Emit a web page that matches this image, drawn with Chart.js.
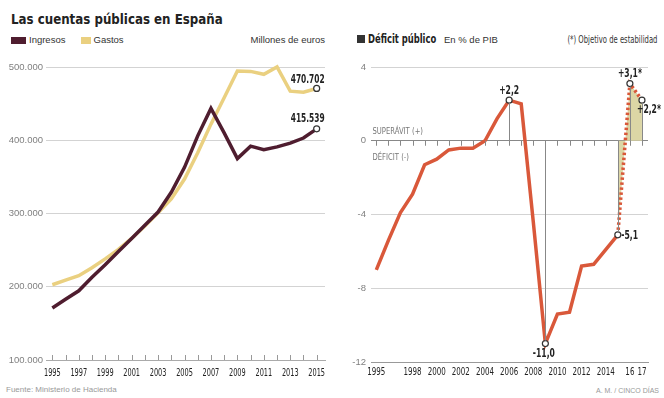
<!DOCTYPE html>
<html>
<head>
<meta charset="utf-8">
<script src="https://cdn.jsdelivr.net/npm/chart.js@4.4.1/dist/chart.umd.min.js"></script>
<style>
  body { margin: 0; width: 664px; height: 398px; background: #fff; position: relative; overflow: hidden;
         font-family: "Liberation Sans", Arial, sans-serif; color: #333; }
  canvas { position: absolute; top: 0; }
  #left { left: 0; }
  #right { left: 332px; }
  .t { position: absolute; white-space: nowrap; line-height: 1; color: #333; }
  .c { font-family: "DejaVu Sans Condensed", "DejaVu Sans", sans-serif; transform-origin: 0 0; }
  .r { transform-origin: 100% 0; }
  .sw { position: absolute; }
</style>
</head>
<body>
<div class="t c" style="left:11px;top:11.5px;font-size:14px;font-weight:bold;color:#222;transform:scaleX(0.94)">Las cuentas públicas en España</div>
<div class="sw" style="left:11px;top:36.5px;width:15px;height:7px;background:#4f1d2f"></div>
<div class="t" style="left:29px;top:35.3px;font-size:9.5px">Ingresos</div>
<div class="sw" style="left:81px;top:36.5px;width:10px;height:7px;background:#ead080"></div>
<div class="t" style="left:93.5px;top:35.3px;font-size:9.5px">Gastos</div>
<div class="t" style="right:339px;top:35.3px;font-size:9.5px">Millones de euros</div>

<div class="sw" style="left:357px;top:34.5px;width:8px;height:8px;background:#333"></div>
<div class="t c" style="left:368px;top:33.7px;font-size:11.4px;font-weight:bold;color:#222;transform:scaleX(0.82)">Déficit público</div>
<div class="t" style="left:444px;top:35.3px;font-size:9.5px">En % de PIB</div>
<div class="t c r" style="right:7px;top:34.8px;font-size:10px;color:#333;transform:scaleX(0.76)">(*) Objetivo de estabilidad</div>

<div class="t" style="left:6px;top:386.2px;font-size:8px;color:#999">Fuente: Ministerio de Hacienda</div>
<div class="t" style="right:5px;top:386.8px;font-size:7px;color:#999">A. M. / CINCO DÍAS</div>

<canvas id="left" width="332" height="398"></canvas>
<canvas id="right" width="332" height="398"></canvas>

<script>
// Ingresos y gastos públicos (millones de euros)
const years = [1995, 1996, 1997, 1998, 1999, 2000, 2001, 2002, 2003, 2004, 2005,
               2006, 2007, 2008, 2009, 2010, 2011, 2012, 2013, 2014, 2015];
const ingresos = [171000, 183000, 194500, 213000, 230000, 248000, 266000, 284000, 302000, 329000, 363000,
                  406000, 443500, 410000, 375000, 392000, 387000, 391000, 396000, 403000, 415539];
const gastos = [202700, 209000, 215000, 226000, 238000, 251000, 266000, 283000, 301000, 320000, 347000,
                383000, 422000, 458000, 494500, 494000, 490000, 500000, 467000, 465500, 470702];
const leftTicks = [100000, 200000, 300000, 400000, 500000];
const leftYearLabels = [1995, 1997, 1999, 2001, 2003, 2005, 2007, 2009, 2011, 2013, 2015];

// Déficit público (% del PIB)
const defYears = [1995, 1996, 1997, 1998, 1999, 2000, 2001, 2002, 2003, 2004, 2005,
                  2006, 2007, 2008, 2009, 2010, 2011, 2012, 2013, 2014, 2015];
const deficit = [-7.0, -5.4, -3.9, -2.9, -1.3, -1.0, -0.5, -0.4, -0.4, 0.0, 1.2,
                 2.2, 2.0, -4.4, -11.0, -9.4, -9.3, -6.8, -6.7, -5.9, -5.1];
const objYears = [2015, 2016, 2017];
const objetivo = [-5.1, 3.1, 2.2];
const rightTicks = [4, 0, -4, -8, -12];
const rightYearLabels = [1995, 1998, 2000, 2002, 2004, 2006, 2008, 2010, 2012, 2014, 2016, 2017];

const NORMAL = '"Liberation Sans", Arial, sans-serif';
const COND = '"DejaVu Sans Condensed", "DejaVu Sans", sans-serif';
Chart.defaults.font.family = NORMAL;
Chart.defaults.animation = false;

const MAROON = '#4f1d2f', YELLOW = '#ead080', RED = '#d9583a', FILL = '#dcd6a5';

const fmt = v => String(Math.round(v)).replace(/\B(?=(\d{3})+(?!\d))/g, '.');
const fmtPct = v => (v > 0 ? '+' : '') + v.toFixed(1).replace('.', ',');
const pts = (xs, ys) => xs.map((x, i) => ({ x: x, y: ys[i] }));

// condensed text: squeeze horizontally around the anchor
function condText(ctx, text, x, y, sx, align) {
  ctx.save();
  ctx.translate(x, y);
  ctx.scale(sx, 1);
  ctx.textAlign = align;
  ctx.fillText(text, 0, 0);
  ctx.restore();
}

const marker = {
  pointBackgroundColor: '#fff',
  pointBorderColor: '#333',
  pointBorderWidth: 1.2,
  pointHoverRadius: 0
};

// ---------- left chart ----------
const leftPlugin = {
  id: 'leftExtras',
  afterDatasetsDraw(chart) {
    const ctx = chart.ctx, x = chart.scales.x, y = chart.scales.y;
    const base = y.getPixelForValue(100000);
    ctx.save();
    ctx.strokeStyle = '#999';
    ctx.lineWidth = 1;
    years.forEach(yr => {
      const px = Math.round(x.getPixelForValue(yr)) + 0.5;
      ctx.beginPath();
      ctx.moveTo(px, base);
      ctx.lineTo(px, base - 5);
      ctx.stroke();
    });
    // year labels
    ctx.fillStyle = '#222';
    ctx.font = '10px ' + COND;
    leftYearLabels.forEach(yr => condText(ctx, String(yr), x.getPixelForValue(yr), base + 15.5, 0.73, 'center'));
    // end values
    ctx.font = 'bold 11.5px ' + COND;
    const last = years.length - 1;
    const lx = x.getPixelForValue(years[last]) + 8;
    condText(ctx, fmt(gastos[last]), lx, y.getPixelForValue(gastos[last]) - 5.5, 0.72, 'right');
    condText(ctx, fmt(ingresos[last]), lx, y.getPixelForValue(ingresos[last]) - 7, 0.72, 'right');
    ctx.restore();
  }
};

new Chart(document.getElementById('left'), {
  type: 'line',
  data: {
    datasets: [
      Object.assign({
        label: 'Ingresos',
        data: pts(years, ingresos),
        borderColor: MAROON,
        borderWidth: 3.5,
        pointRadius: c => c.dataIndex === years.length - 1 ? 3 : 0,
        clip: false
      }, marker),
      Object.assign({
        label: 'Gastos',
        data: pts(years, gastos),
        borderColor: YELLOW,
        borderWidth: 3.5,
        pointRadius: c => c.dataIndex === years.length - 1 ? 3 : 0,
        clip: false
      }, marker)
    ]
  },
  options: {
    responsive: false,
    devicePixelRatio: 1,
    layout: { padding: { top: 67, bottom: 18, left: 0, right: 7 } },
    plugins: { legend: { display: false }, tooltip: { enabled: false } },
    elements: { line: { tension: 0 } },
    scales: {
      x: {
        type: 'linear',
        min: 1994.52,
        max: 2015.63,
        afterBuildTicks: s => { s.ticks = leftYearLabels.map(v => ({ value: v })); },
        afterFit: s => { s.height = 20; },
        ticks: { display: false },
        grid: { display: false, drawTicks: false },
        border: { color: '#aaa' }
      },
      y: {
        min: 100000,
        max: 500000,
        afterBuildTicks: s => { s.ticks = leftTicks.map(v => ({ value: v })); },
        afterFit: s => { s.width = 46; },
        ticks: { padding: 3, color: '#808080', font: { size: 9.5 }, callback: v => fmt(v) },
        grid: { color: '#d3d3d3', drawTicks: false },
        border: { display: false }
      }
    }
  },
  plugins: [leftPlugin]
});

// ---------- right chart ----------
const dropYears = [2006, 2009, 2015, 2016, 2017];

const rightPlugin = {
  id: 'rightExtras',
  afterDatasetsDraw(chart) {
    const ctx = chart.ctx, x = chart.scales.x, y = chart.scales.y;
    const y0 = y.getPixelForValue(0);
    const yBottom = y.getPixelForValue(-12);
    const valueOf = yr => {
      const i = defYears.indexOf(yr);
      return i >= 0 ? deficit[i] : objetivo[objYears.indexOf(yr)];
    };
    ctx.save();
    ctx.lineWidth = 1;
    ctx.strokeStyle = '#888';
    // ticks below the zero line
    for (let yr = 1995; yr <= 2017; yr++) {
      const px = Math.round(x.getPixelForValue(yr)) + 0.5;
      ctx.beginPath();
      ctx.moveTo(px, y0);
      ctx.lineTo(px, y0 + 5);
      ctx.stroke();
    }
    // drop lines from the marked points to zero
    dropYears.forEach(yr => {
      const v = valueOf(yr);
      const px = Math.round(x.getPixelForValue(yr)) + 0.5;
      const py = y.getPixelForValue(v);
      ctx.beginPath();
      ctx.moveTo(px, v > 0 ? py + 3 : py - 3);
      ctx.lineTo(px, y0);
      ctx.stroke();
    });
    // year labels
    ctx.fillStyle = '#222';
    ctx.font = '10px ' + COND;
    rightYearLabels.forEach(yr => {
      const txt = yr >= 2016 ? String(yr).slice(2) : String(yr);
      condText(ctx, txt, x.getPixelForValue(yr), yBottom + 13, 0.79, 'center');
    });
    // zone labels
    ctx.fillStyle = '#777';
    ctx.font = '9.5px ' + COND;
    condText(ctx, 'SUPERÁVIT (+)', chart.chartArea.left + 1.5, y0 - 7, 0.8, 'left');
    condText(ctx, 'DÉFICIT (-)', chart.chartArea.left + 1.5, y0 + 19, 0.8, 'left');
    // value labels
    ctx.fillStyle = '#222';
    ctx.font = 'bold 11.5px ' + COND;
    const label = (yr, star, dx, dy, align) => {
      const v = valueOf(yr);
      condText(ctx, fmtPct(v) + (star ? '*' : ''), x.getPixelForValue(yr) + dx, y.getPixelForValue(v) + dy, 0.74, align);
    };
    label(2006, false, 0, -6.5, 'center');
    label(2009, false, -1.5, 13.5, 'center');
    label(2015, false, 3.5, 4, 'left');
    label(2016, true, 0, -6.5, 'center');
    label(2017, true, -5, 13, 'left');
    ctx.restore();
  }
};

new Chart(document.getElementById('right'), {
  type: 'line',
  data: {
    datasets: [
      Object.assign({
        label: 'Déficit',
        data: pts(defYears, deficit),
        borderColor: RED,
        borderWidth: 3.5,
        pointRadius: c => [2006, 2009, 2015].includes(defYears[c.dataIndex]) ? 3 : 0,
        clip: false
      }, marker),
      Object.assign({
        label: 'Objetivo',
        data: pts(objYears, objetivo),
        borderColor: RED,
        borderWidth: 3.5,
        borderDash: [2.5, 2.5],
        fill: 'origin',
        backgroundColor: FILL,
        pointRadius: c => c.dataIndex === 0 ? 0 : 3,
        clip: false
      }, marker)
    ]
  },
  options: {
    responsive: false,
    devicePixelRatio: 1,
    layout: { padding: { top: 67, bottom: 16, left: 0, right: 16 } },
    plugins: { legend: { display: false }, tooltip: { enabled: false } },
    elements: { line: { tension: 0 } },
    scales: {
      x: {
        type: 'linear',
        min: 1994.56,
        max: 2017.5,
        afterBuildTicks: s => { s.ticks = rightYearLabels.map(v => ({ value: v })); },
        afterFit: s => { s.height = 20; },
        ticks: { display: false },
        grid: { display: false, drawTicks: false },
        border: { color: '#999' }
      },
      y: {
        min: -12,
        max: 4,
        afterBuildTicks: s => { s.ticks = rightTicks.map(v => ({ value: v })); },
        afterFit: s => { s.width = 39; },
        ticks: { padding: 5, color: '#808080', font: { size: 9.5 } },
        grid: { color: c => c.tick && c.tick.value === 0 ? '#888' : '#d3d3d3', drawTicks: false },
        border: { display: false }
      }
    }
  },
  plugins: [rightPlugin]
});
</script>
</body>
</html>
